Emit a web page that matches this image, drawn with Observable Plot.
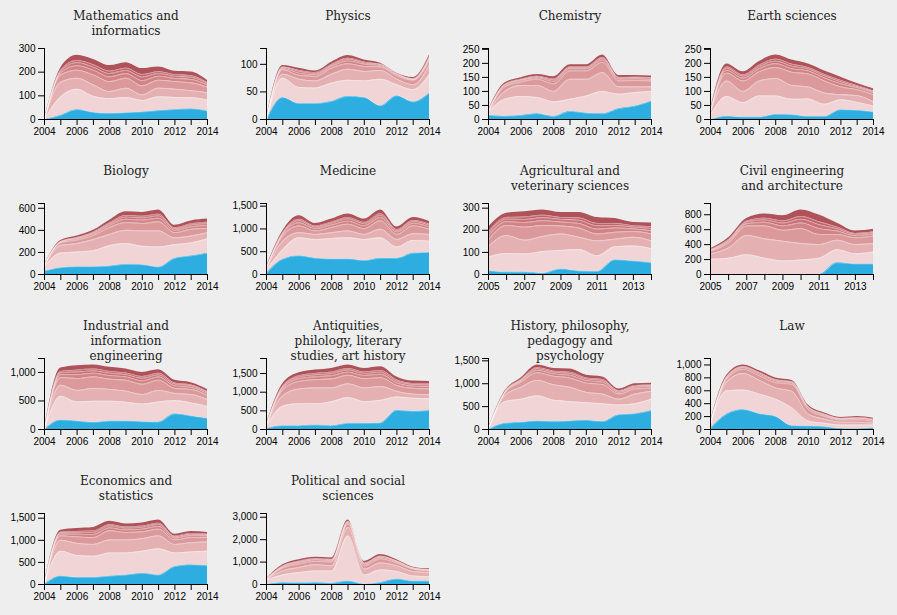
<!DOCTYPE html>
<html><head><meta charset="utf-8">
<script src="https://cdn.jsdelivr.net/npm/d3@7"></script>
<script src="https://cdn.jsdelivr.net/npm/@observablehq/plot@0.6"></script>
<style>
html,body{margin:0;padding:0;background:#eeeeee;}
#grid{position:relative;width:897px;height:615px;}
.panel{position:absolute;}
</style></head><body><div id="grid"></div>
<script>
const years04 = [2004,2005,2006,2007,2008,2009,2010,2011,2012,2013,2014];
const years05 = [2005,2006,2007,2008,2009,2010,2011,2012,2013,2014];
const layerNames = ["L0","L1","L2","L3","L4","L5","L6","L7"];
const layerColors = ["#2EAEE0","#F0D4D6","#E5B0B2","#DB999C","#D28386","#C97176","#C06368","#AF5259"];

const titles = [
  "Mathematics and\ninformatics","Physics","Chemistry","Earth sciences",
  "Biology","Medicine","Agricultural and\nveterinary sciences","Civil engineering\nand architecture",
  "Industrial and\ninformation\nengineering","Antiquities,\nphilology, literary\nstudies, art history","History, philosophy,\npedagogy and\npsychology","Law",
  "Economics and\nstatistics","Political and social\nsciences"
];
const startYears = [2004,2004,2004,2004,2004,2004,2005,2005,2004,2004,2004,2004,2004,2004];
const yTicks = [
  [0,100,200,300],[0,50,100],[0,50,100,150,200,250],[0,50,100,150,200,250],
  [0,200,400,600],[0,500,1000,1500],[0,100,200,300],[0,200,400,600,800],
  [0,500,1000],[0,500,1000,1500],[0,500,1000,1500],[0,200,400,600,800,1000],
  [0,500,1000,1500],[0,1000,2000,3000]
];

const mathematics = [
  [0,18,42,30,26,29,32,38,42,45,36],
  [0,78,86,68,62,64,48,58,51,47,46],
  [0,62,46,48,30,39,24,36,35,30,31],
  [0,30,34,42,42,42,38,34,32,33,23],
  [0,9,19,20,20,20,22,17,13,14,9],
  [0,6,13,13,14,13,15,11,9,9,6],
  [0,5,9,10,10,10,11,8,7,7,4],
  [0,10,22,23,24,23,25,20,15,16,10]
];
const physics = [
  [0,40,29,29,33,42,40,25,43,32,48],
  [0,35,29,28,33,29,30,48,20,22,34],
  [0,7,15,13,16,20,17,16,10,9,17],
  [0,8,7,8,11,10,9,6,6,8,8],
  [0,2,4,3,3,5,4,2,2,1,3],
  [0,2,3,2,2,3,2,2,1,1,2],
  [0,1,2,2,2,2,2,1,1,1,2],
  [0,3,4,3,4,5,4,2,1,2,3]
];
const chemistry = [
  [15,12,15,21,11,29,23,21,39,48,66],
  [12,60,67,57,52,43,61,79,51,48,34],
  [2,28,39,43,37,71,59,67,26,20,16],
  [1,16,12,22,27,30,30,37,21,23,21],
  [1,4,5,5,8,7,7,8,6,5,5],
  [1,3,3,3,5,4,4,5,4,4,4],
  [0,2,2,3,4,3,3,4,3,3,3],
  [1,5,6,6,8,8,8,9,7,6,6]
];
const earth = [
  [0,12,9,9,18,17,11,11,35,33,27],
  [15,70,51,75,66,55,62,43,35,28,21],
  [10,55,40,53,62,49,43,40,18,24,15],
  [3,28,37,33,39,47,46,43,28,21,25],
  [1,10,10,11,14,13,11,11,11,7,7],
  [1,7,7,7,9,9,7,7,7,4,4],
  [1,5,5,6,7,7,5,5,5,3,3],
  [2,11,11,13,15,15,13,13,12,8,8]
];
const biology = [
  [31,62,71,71,77,92,89,68,148,169,194],
  [40,132,132,144,185,188,166,181,123,117,129],
  [9,68,77,102,101,120,139,145,61,62,55],
  [4,24,31,37,62,71,68,83,46,61,40],
  [1,7,11,14,20,29,30,32,20,23,25],
  [0,4,7,9,13,20,20,22,14,15,17],
  [0,3,6,7,10,15,15,16,10,12,13],
  [1,8,13,16,24,34,36,38,24,27,29]
];
const medicine = [
  [22,336,410,358,343,343,306,358,358,470,485],
  [75,209,396,410,448,463,462,448,246,276,246],
  [30,186,112,112,127,149,112,186,164,149,149],
  [15,112,149,75,112,149,127,187,112,172,112],
  [9,34,67,49,56,67,63,71,49,56,52],
  [6,22,45,33,37,45,42,48,33,37,34],
  [4,17,33,25,28,34,31,36,25,28,26],
  [11,39,78,57,65,78,73,83,57,65,60]
];
const agricultural = [
  [17,11,11,6,25,16,14,67,61,53],
  [62,84,82,98,84,97,71,59,68,64],
  [47,81,62,68,74,55,67,34,39,35],
  [31,46,59,50,36,42,31,31,26,31],
  [17,17,21,21,18,21,22,19,12,15],
  [11,11,14,14,12,14,15,12,8,10],
  [9,8,11,11,9,11,11,9,6,8],
  [20,19,24,24,22,25,27,22,15,17]
];
const civil = [
  [0,0,0,0,0,0,0,159,141,141],
  [205,218,264,218,182,195,218,173,136,159],
  [68,137,259,259,263,219,182,127,123,114],
  [36,68,127,173,146,200,136,77,91,100],
  [11,20,30,48,58,75,78,45,27,27],
  [7,14,20,32,39,50,52,30,18,18],
  [5,10,15,24,29,38,39,23,14,14],
  [13,24,35,55,69,87,90,52,32,32]
];
const industrial = [
  [0,167,149,125,149,149,137,131,274,238,196],
  [0,416,333,369,345,327,309,351,232,226,209],
  [0,191,202,226,208,196,167,202,125,149,119],
  [0,136,209,202,179,191,178,179,89,89,71],
  [0,50,68,63,62,59,63,56,43,36,32],
  [0,33,45,42,42,39,42,37,29,24,21],
  [0,25,34,31,31,29,31,28,21,18,16],
  [0,59,79,73,73,69,73,64,50,41,38]
];
const antiquities = [
  [28,101,101,120,101,166,166,175,515,488,506],
  [64,525,589,570,644,690,579,607,359,349,322],
  [28,276,396,423,368,368,368,368,147,111,101],
  [9,156,202,221,239,230,249,239,157,156,157],
  [3,50,69,77,86,83,83,89,69,58,61],
  [2,33,46,52,57,55,55,59,46,39,40],
  [1,25,35,39,43,41,41,44,35,29,30],
  [3,58,80,90,100,97,97,103,80,67,71]
];
const history = [
  [0,135,158,188,173,188,203,173,323,345,413],
  [12,473,502,547,465,420,382,390,210,218,247],
  [4,127,263,338,337,315,225,210,127,210,173],
  [2,53,112,165,188,202,203,210,113,112,67],
  [1,14,27,52,52,59,52,50,34,34,34],
  [1,9,18,34,34,39,34,33,22,23,23],
  [0,7,14,26,26,29,26,25,17,17,17],
  [2,15,31,60,60,68,60,57,39,39,39]
];
const law = [
  [16,239,309,245,202,59,53,43,16,11,27],
  [64,362,303,303,266,276,80,53,53,58,42],
  [16,133,255,213,176,255,106,64,43,43,27],
  [10,43,64,69,80,107,70,42,32,37,26],
  [5,19,21,24,22,19,21,16,13,16,16],
  [3,13,14,16,15,13,14,11,8,11,11],
  [2,9,10,12,11,10,10,8,6,8,8],
  [6,22,24,28,26,22,24,18,15,18,19]
];
const economics = [
  [0,192,161,161,192,215,254,215,408,446,431],
  [14,562,493,477,523,500,500,592,307,292,323],
  [5,246,276,269,292,292,284,293,192,208,207],
  [2,100,147,154,208,170,154,153,100,115,100],
  [1,39,58,69,65,58,60,62,39,42,35],
  [0,26,38,46,43,38,40,42,26,28,23],
  [0,20,29,35,32,29,30,31,20,21,17],
  [1,45,67,81,75,67,70,73,46,48,41]
];
const political = [
  [0,91,76,91,61,152,15,91,242,152,152],
  [197,333,454,515,545,2014,409,560,334,227,196],
  [30,182,228,273,227,379,258,304,257,197,182],
  [15,121,151,151,167,152,151,181,122,106,76],
  [5,46,59,55,55,55,59,59,45,27,27],
  [4,30,39,36,36,36,39,39,30,18,18],
  [3,23,30,27,27,27,30,30,23,14,14],
  [6,53,69,64,64,64,69,69,53,32,32]
];

const series = [mathematics, physics, chemistry, earth, biology, medicine, agricultural, civil,
  industrial, antiquities, history, law, economics, political];

const grid = document.getElementById("grid");
const fmt = d3.format(",");

series.forEach((vals, k) => {
  const yrs = startYears[k] === 2004 ? years04 : years05;
  const rows = [];
  vals.forEach((arr, li) => arr.forEach((v, i) => rows.push({year: yrs[i], layer: layerNames[li], value: v})));
  const maxTotal = d3.max(yrs, (_, i) => d3.sum(vals, a => a[i]));
  const ticks = yTicks[k];
  const last = ticks[ticks.length - 1];
  const ymax = Math.max(maxTotal * 1.1, last);
  const allTicks = ymax > last + 1e-9 ? [...ticks, ymax] : ticks;
  const chart = Plot.plot({
    width: 222, height: 155,
    marginLeft: 44, marginRight: 15, marginTop: 48, marginBottom: 36,
    style: {background: "transparent", fontFamily: "'Liberation Sans', Arial, Helvetica, sans-serif", fontSize: "10px", color: "#000", overflow: "visible"},
    x: {domain: [yrs[0], 2014]},
    y: {domain: [0, ymax]},
    color: {domain: layerNames, range: layerColors},
    marks: [
      Plot.areaY(rows, {x: "year", y: "value", z: "layer", fill: "layer", curve: "monotone-x"}),
      Plot.lineY(rows, Plot.stackY2({x: "year", y: "value", z: "layer", curve: "monotone-x",
        filter: d => d.layer !== "L7", stroke: "white", strokeWidth: 0.7, strokeOpacity: 0.5})),
      Plot.ruleY([0], {stroke: "#000"}),
      Plot.ruleX([yrs[0]], {stroke: "#000"}),
      Plot.axisX({ticks: yrs, tickFormat: d => ((d - yrs[0]) % 2 === 0 ? String(d) : ""), tickSize: 6, tickPadding: 2, label: null, stroke: "#000", fill: "#000"}),
      Plot.axisY({ticks: allTicks, tickFormat: d => (ticks.includes(d) ? fmt(d) : ""), tickSize: 6, tickPadding: 3, label: null, stroke: "#000", fill: "#000"}),
      Plot.text([titles[k]], {text: d => d, frameAnchor: "top", dy: -39, lineAnchor: "top",
        fontFamily: "'DejaVu Serif', serif", fontSize: 12, lineHeight: 1.25, fill: "#222"})
    ]
  });
  const div = document.createElement("div");
  div.className = "panel";
  div.style.left = (k % 4) * 222 + "px";
  div.style.top = Math.floor(k / 4) * 155 + "px";
  div.appendChild(chart);
  grid.appendChild(div);
});
</script></body></html>
